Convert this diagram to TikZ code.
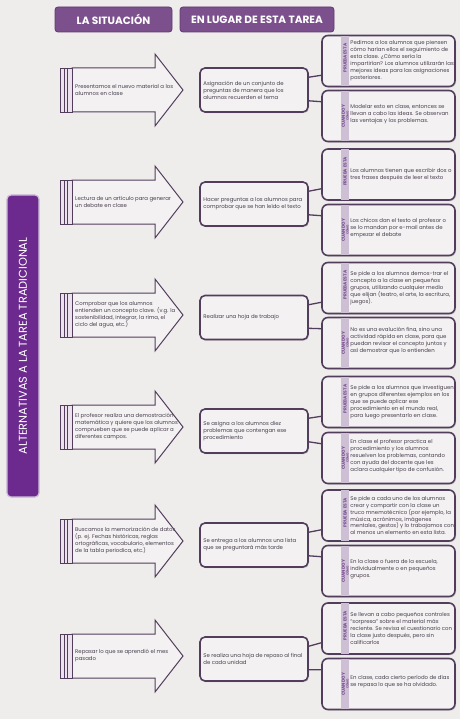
\documentclass[tikz,border=0pt]{standalone}
\usepackage{fontspec}
\setmainfont{Poppins}
\usetikzlibrary{calc,shadows}
\definecolor{bg}{RGB}{239,237,236}
\definecolor{hdr}{RGB}{124,80,140}
\definecolor{hdrdark}{RGB}{95,58,110}
\definecolor{side}{RGB}{108,42,142}
\definecolor{sideedge}{RGB}{205,190,215}
\definecolor{frame}{RGB}{82,62,92}
\definecolor{boxfill}{RGB}{243,241,242}
\definecolor{stripc}{RGB}{205,192,212}
\definecolor{labc}{RGB}{120,75,145}
\definecolor{txt}{RGB}{72,64,78}
\definecolor{stripefill}{RGB}{236,226,238}
\tikzset{
  hdrbox/.style={fill=hdr, draw=hdrdark, line width=0.8bp, rounded corners=3bp, minimum height=25bp, text=white, font=\fontsize{10.6}{12}\selectfont\bfseries, inner sep=0pt},
  sidebox/.style={fill=side, draw=sideedge, line width=1.2bp, rounded corners=4bp, minimum width=32bp, minimum height=302bp, inner sep=0pt},
  sidetext/.style={rotate=90, text=white, font=\fontsize{11.4}{12}\selectfont, inner sep=0pt},
  midbox/.style={draw=frame, line width=1.6bp, fill=boxfill, rounded corners=5bp, minimum width=108bp, minimum height=44bp, inner sep=0pt, drop shadow={shadow xshift=1bp, shadow yshift=-1.2bp, opacity=0.3}},
  rbox/.style={draw=frame, line width=1.6bp, fill=boxfill, rounded corners=6bp, minimum width=133bp, minimum height=51bp, inner sep=0pt, drop shadow={shadow xshift=1bp, shadow yshift=-1.2bp, opacity=0.3}},
  smalltext/.style={text=txt, font=\fontsize{5.4}{7}\selectfont, align=left, inner sep=0pt, anchor=west},
  striplab/.style={rotate=90, text=labc, font=\fontsize{4.4}{4.6}\selectfont\bfseries, align=center, inner sep=0pt},
  arrowline/.style={draw=frame, line width=1bp, fill=boxfill, line join=miter},
  stripe/.style={draw=frame, line width=0.7bp, fill=stripefill},
  link/.style={draw=frame, line width=1.3bp}
}
\newcommand{\rowblock}[9]{%
  \draw[arrowline] (72,#2-22) -- (155,#2-22) -- (155,#2-36) -- (183,#2) -- (155,#2+36) -- (155,#2+22) -- (72,#2+22) -- cycle;
  \draw[stripe] (60,#2-22) rectangle (64,#2+22);
  \draw[stripe] (64,#2-22) rectangle (67,#2+22);
  \draw[stripe] (67,#2-22) rectangle (72,#2+22);
  \node[smalltext] (a#1) at (75,#2) {#6};
  \node[midbox] (m#1) at (254,#3) {};
  \node[smalltext] (mt#1) at ($(m#1.west)+(4,0)$) {#7};
  \node[rbox] (p#1) at (388.5,#4) {};
  \fill[stripc] ($(p#1.north west)+(20,1.2)$) rectangle ($(p#1.south west)+(28,-1.2)$);
  \node[striplab] (pl#1) at ($(p#1.west)+(24,-3)$) {PRUEBA ESTA};
  \node[smalltext] (pt#1) at ($(p#1.west)+(29,0)$) {#8};
  \node[rbox] (c#1) at (388.5,#5) {};
  \fill[stripc] ($(c#1.north west)+(20,1.2)$) rectangle ($(c#1.south west)+(28,-1.2)$);
  \node[striplab] (cl#1) at ($(c#1.west)+(24,0)$) {CUANDO Y\\[-0.6bp]{\fontsize{3}{3.2}\selectfont CÓMO}};
  \node[smalltext] (ct#1) at ($(c#1.west)+(29,-2)$) {#9};
  \draw[link] ($(m#1.north east)+(0,10)$) -- ($(p#1.south west)+(0,-12)$);
  \draw[link] ($(m#1.south east)+(0,-12)$) -- ($(c#1.north west)+(0,12)$);
}
\begin{document}
\begin{tikzpicture}[x=1bp,y=-1bp]
\fill[bg] (0,0) rectangle (460,719);
\useasboundingbox (0,0) rectangle (460,719);
\node[hdrbox, minimum width=117bp] (h1) at (113.5,19.5) {LA SITUACIÓN};
\node[hdrbox, minimum width=154bp] (h2) at (257,19.5) {EN LUGAR DE ESTA TAREA};
\node[sidebox] (side) at (23,346) {};
\node[sidetext] (sidet) at (side.center) {ALTERNATIVAS A LA TAREA TRADICIONAL};

\rowblock{1}{90}{90}{61}{116}
 {Presentamos el nuevo material a los\\alumnos en clase}
 {Asignación de un conjunto de\\preguntas de manera que los\\alumnos recuerden el tema}
 {Pedimos a los alumnos que piensen\\cómo harían ellos el seguimiento de\\esta clase. ¿Cómo sería la\\impartirían? Los alumnos utilizarán las\\mejores ideas para las asignaciones\\posteriores.}
 {Modelar esto en clase, entonces se\\llevan a cabo las ideas. Se observan\\las ventajas y los problemas.}

\rowblock{2}{202}{204}{174.5}{230}
 {Lectura de un artículo para generar\\un debate en clase}
 {Hacer preguntas a los alumnos para\\comprobar que se han leído el texto}
 {Los alumnos tienen que escribir dos o\\tres frases después de leer el texto}
 {Los chicos dan el texto al profesor o\\se lo mandan por e-mail antes de\\empezar el debate}

\rowblock{3}{315}{317.5}{288}{343}
 {Comprobar que los alumnos\\entienden un concepto clave. (v.g. la\\sostenibilidad, integrar, la rima, el\\ciclo del agua, etc.)}
 {Realizar una hoja de trabajo}
 {Se pide a los alumnos demos-trar el\\concepto a la clase en pequeños\\grupos, utilizando cualquier medio\\que elijan (teatro, el arte, la escritura,\\juegos).}
 {No es una evalución fina, sino una\\actividad rápida en clase, para que\\puedan revisar el concepto juntos y\\así demostrar que lo entienden}

\rowblock{4}{427}{431}{402}{458}
 {El profesor realiza una demostración\\matemática y quiere que los alumnos\\comprueben que se puede aplicar a\\diferentes campos.}
 {Se asigna a los alumnos diez\\problemas que contengan ese\\procedimiento}
 {Se pide a los alumnos que investiguen\\en grupos diferentes ejemplos en los\\que se puede aplicar ese\\procedimiento en el mundo real,\\para luego presentarlo en clase.}
 {En clase el profesor practica el\\procedimiento y los alumnos\\resuelven los problemas, contando\\con ayuda del docente que les\\aclara cualquier tipo de confusión.}

\rowblock{5}{541}{545}{515.5}{571}
 {Buscamos la memorización de datos\\(p. ej. Fechas históricas, reglas\\ortográficas, vocabulario, elementos\\de la tabla periodica, etc.)}
 {Se entrega a los alumnos una lista\\que se preguntará más tarde}
 {Se pide a cada uno de los alumnos\\crear y compartir con la clase un\\truco mnemotécnico (por ejemplo, la\\música, acrónimos, imágenes\\mentales, gestos) y lo trabajamos con\\al menos un elemento en esta lista.}
 {En la clase o fuera de la escuela,\\individualmente o en pequeños\\grupos.}

\rowblock{6}{656}{659}{628.5}{684}
 {Repasar lo que se aprendió el mes\\pasado}
 {Se realiza una hoja de repaso al final\\de cada unidad}
 {Se llevan a cabo pequeños controles\\“sorpresa” sobre el material más\\reciente. Se revisa el cuestionario con\\la clase justo después, pero sin\\calificarlos}
 {En clase, cada cierto período de días\\se repasa lo que se ha olvidado.}
\end{tikzpicture}
\end{document}
